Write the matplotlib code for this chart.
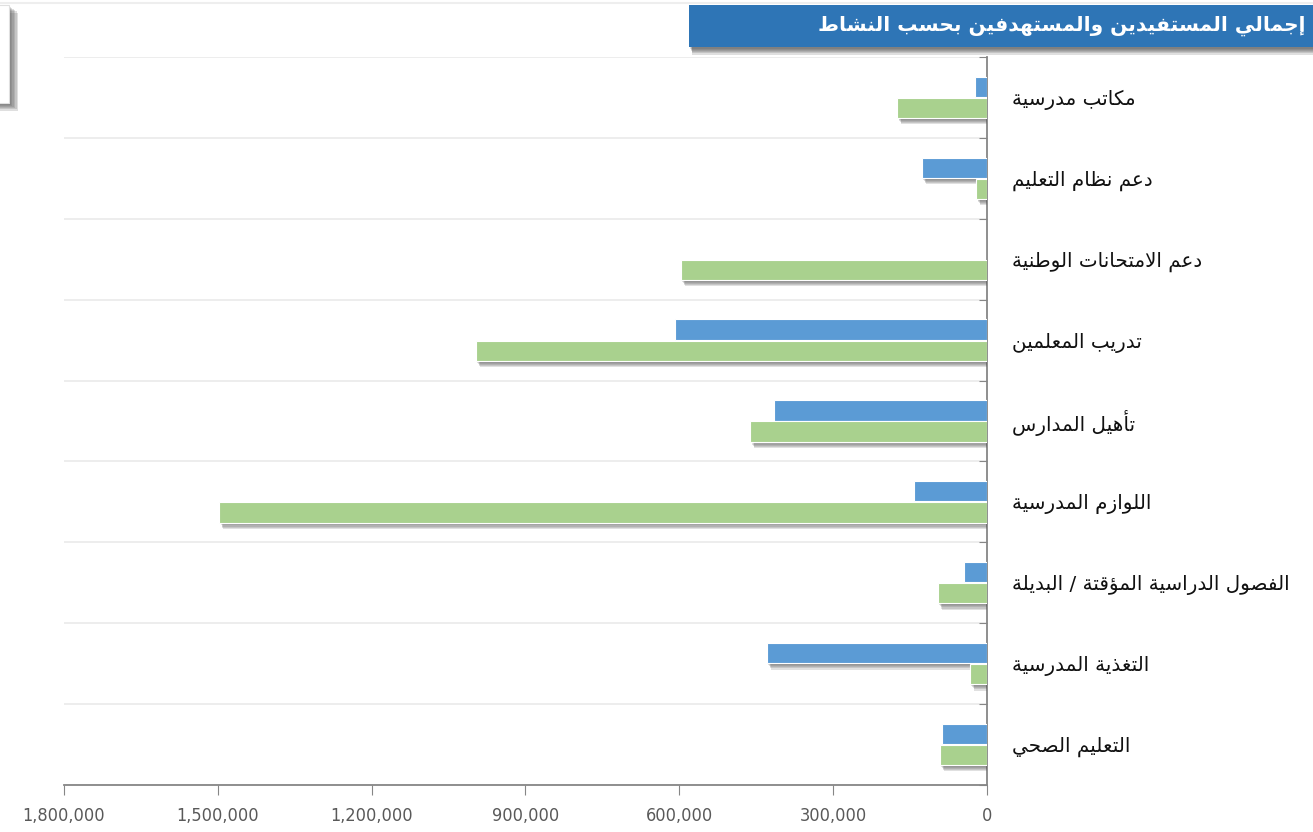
import matplotlib
matplotlib.use("Agg")
import matplotlib.pyplot as plt
import matplotlib.patheffects as pe
from matplotlib.patches import Rectangle
from matplotlib.ticker import FuncFormatter

# categories (top to bottom) and the two series
categories = [
    "مكاتب مدرسية",
    "دعم نظام التعليم",
    "دعم الامتحانات الوطنية",
    "تدريب المعلمين",
    "تأهيل المدارس",
    "اللوازم المدرسية",
    "الفصول الدراسية المؤقتة / البديلة",
    "التغذية المدرسية",
    "التعليم الصحي",
]
beneficiaries = [23000, 127000, 0, 608000, 415000, 142000, 45000, 429000, 88000]
targeted = [175000, 21000, 597000, 997000, 462000, 1498000, 96000, 33000, 92000]
x_ticks = [0, 300000, 600000, 900000, 1200000, 1500000, 1800000]
title = "إجمالي المستفيدين والمستهدفين بحسب النشاط"

# --- minimal Arabic shaping (matplotlib has no complex text layout) ---
FORMS = {
    "ء": ("\uFE80",), "آ": ("\uFE81", "\uFE82"), "أ": ("\uFE83", "\uFE84"),
    "ؤ": ("\uFE85", "\uFE86"), "إ": ("\uFE87", "\uFE88"),
    "ئ": ("\uFE89", "\uFE8A", "\uFE8B", "\uFE8C"), "ا": ("\uFE8D", "\uFE8E"),
    "ب": ("\uFE8F", "\uFE90", "\uFE91", "\uFE92"), "ة": ("\uFE93", "\uFE94"),
    "ت": ("\uFE95", "\uFE96", "\uFE97", "\uFE98"),
    "ث": ("\uFE99", "\uFE9A", "\uFE9B", "\uFE9C"),
    "ج": ("\uFE9D", "\uFE9E", "\uFE9F", "\uFEA0"),
    "ح": ("\uFEA1", "\uFEA2", "\uFEA3", "\uFEA4"),
    "خ": ("\uFEA5", "\uFEA6", "\uFEA7", "\uFEA8"),
    "د": ("\uFEA9", "\uFEAA"), "ذ": ("\uFEAB", "\uFEAC"),
    "ر": ("\uFEAD", "\uFEAE"), "ز": ("\uFEAF", "\uFEB0"),
    "س": ("\uFEB1", "\uFEB2", "\uFEB3", "\uFEB4"),
    "ش": ("\uFEB5", "\uFEB6", "\uFEB7", "\uFEB8"),
    "ص": ("\uFEB9", "\uFEBA", "\uFEBB", "\uFEBC"),
    "ض": ("\uFEBD", "\uFEBE", "\uFEBF", "\uFEC0"),
    "ط": ("\uFEC1", "\uFEC2", "\uFEC3", "\uFEC4"),
    "ظ": ("\uFEC5", "\uFEC6", "\uFEC7", "\uFEC8"),
    "ع": ("\uFEC9", "\uFECA", "\uFECB", "\uFECC"),
    "غ": ("\uFECD", "\uFECE", "\uFECF", "\uFED0"),
    "ف": ("\uFED1", "\uFED2", "\uFED3", "\uFED4"),
    "ق": ("\uFED5", "\uFED6", "\uFED7", "\uFED8"),
    "ك": ("\uFED9", "\uFEDA", "\uFEDB", "\uFEDC"),
    "ل": ("\uFEDD", "\uFEDE", "\uFEDF", "\uFEE0"),
    "م": ("\uFEE1", "\uFEE2", "\uFEE3", "\uFEE4"),
    "ن": ("\uFEE5", "\uFEE6", "\uFEE7", "\uFEE8"),
    "ه": ("\uFEE9", "\uFEEA", "\uFEEB", "\uFEEC"),
    "و": ("\uFEED", "\uFEEE"), "ى": ("\uFEEF", "\uFEF0"),
    "ي": ("\uFEF1", "\uFEF2", "\uFEF3", "\uFEF4"),
}
LAM_ALEF = {"آ": ("\uFEF5", "\uFEF6"), "أ": ("\uFEF7", "\uFEF8"),
            "إ": ("\uFEF9", "\uFEFA"), "ا": ("\uFEFB", "\uFEFC")}


def dual(c):
    return c in FORMS and len(FORMS[c]) == 4


def shape(text):
    out = []
    i = 0
    n = len(text)
    while i < n:
        c = text[i]
        prev_j = i > 0 and dual(text[i - 1])
        if c == "ل" and i + 1 < n and text[i + 1] in LAM_ALEF:
            out.append(LAM_ALEF[text[i + 1]][1 if prev_j else 0])
            i += 2
            continue
        if c not in FORMS:
            out.append(c)
            i += 1
            continue
        f = FORMS[c]
        next_j = dual(c) and i + 1 < n and text[i + 1] in FORMS
        if prev_j and len(f) > 1:
            out.append(f[3] if next_j else f[1])
        else:
            out.append(f[2] if next_j else f[0])
        i += 1
    return "".join(out)[::-1]


def soft_shadow(dx, dy, alpha, steps=4, color="#666666"):
    # stack a few faint offset copies to fake a blurred drop shadow
    effects = []
    for k in range(steps, 0, -1):
        f = k / steps
        effects.append(pe.SimplePatchShadow(offset=(dx * f + 0.5, dy * f - 0.5),
                                            shadow_rgbFace=color, alpha=alpha / steps))
    effects.append(pe.Normal())
    return effects


BLUE = "#5B9BD5"
GREEN = "#A9D18E"
W, H = 1313, 832

fig = plt.figure(figsize=(W / 100, H / 100), dpi=100)
fig.patch.set_facecolor("white")

left, right, top, bottom = 64, 987, 57, 785
ax = fig.add_axes([left / W, 1 - bottom / H, (right - left) / W, (bottom - top) / H])

pos = list(range(len(categories)))
bars_b = ax.barh([p - 0.13 for p in pos], beneficiaries, height=0.25, color=BLUE,
                 edgecolor="white", linewidth=0.8, zorder=3)
bars_g = ax.barh([p + 0.13 for p in pos], targeted, height=0.25, color=GREEN,
                 edgecolor="white", linewidth=0.8, zorder=3)
for b in list(bars_b) + list(bars_g):
    b.set_path_effects(soft_shadow(2.5, -4, 0.9, steps=5, color="#555555"))

ax.set_xlim(x_ticks[-1], 0)
ax.set_ylim(len(categories) - 0.5, -0.5)

# band edges as major ticks (grid), category labels as minor ticks
ax.set_yticks([p - 0.5 for p in pos] + [len(categories) - 0.5])
ax.set_yticks(pos, minor=True)
ax.set_yticklabels([shape(c) for c in categories], minor=True)
ax.yaxis.tick_right()
ax.tick_params(axis="y", which="major", direction="in", length=6, color="#868686",
               labelright=False)
ax.tick_params(axis="y", which="minor", length=0, pad=18, labelsize=14.3, labelcolor="#111111")
for lab in ax.get_yticklabels(minor=True):
    lab.set_fontfamily("DejaVu Sans")
ax.grid(axis="y", which="major", color="#EAEAEA", linewidth=1.2, zorder=0)

ax.set_xticks(x_ticks)
ax.xaxis.set_major_formatter(FuncFormatter(lambda v, p: "{:,.0f}".format(v)))
ax.tick_params(axis="x", direction="out", length=7, color="#868686",
               labelcolor="#595959", labelsize=13, pad=9)
for lab in ax.get_xticklabels():
    lab.set_fontfamily("DejaVu Sans")
    lab.set_fontstretch("condensed")

for s in ("top", "left"):
    ax.spines[s].set_visible(False)
for s in ("right", "bottom"):
    ax.spines[s].set_color("#868686")
    ax.spines[s].set_linewidth(1.3)

# container border line at the very top
fig.add_artist(plt.Line2D([0, 1], [1 - 3 / H, 1 - 3 / H], color="#EEEEEE", linewidth=1.5))

# title bar
bar = Rectangle((689 / W, 1 - 47 / H), (W - 689) / W, 42 / H, transform=fig.transFigure,
                facecolor="#2E75B6", edgecolor="none",
                path_effects=soft_shadow(2, -5, 1.0, steps=6, color="#444444"))
fig.add_artist(bar)
fig.text(1305 / W, 1 - 26 / H, shape(title), color="white", fontsize=14.5, fontweight="bold",
         ha="right", va="center", family="DejaVu Sans")

# cut-off legend box at top-left
box = Rectangle((-0.01, 1 - 103 / H), 0.01 + 9 / W, 98 / H, transform=fig.transFigure,
                facecolor="white", edgecolor="#E0E0E0", linewidth=0.8,
                path_effects=soft_shadow(6, -5, 1.1, steps=6, color="#555555"))
fig.add_artist(box)

fig.savefig("out.png", dpi=100)
